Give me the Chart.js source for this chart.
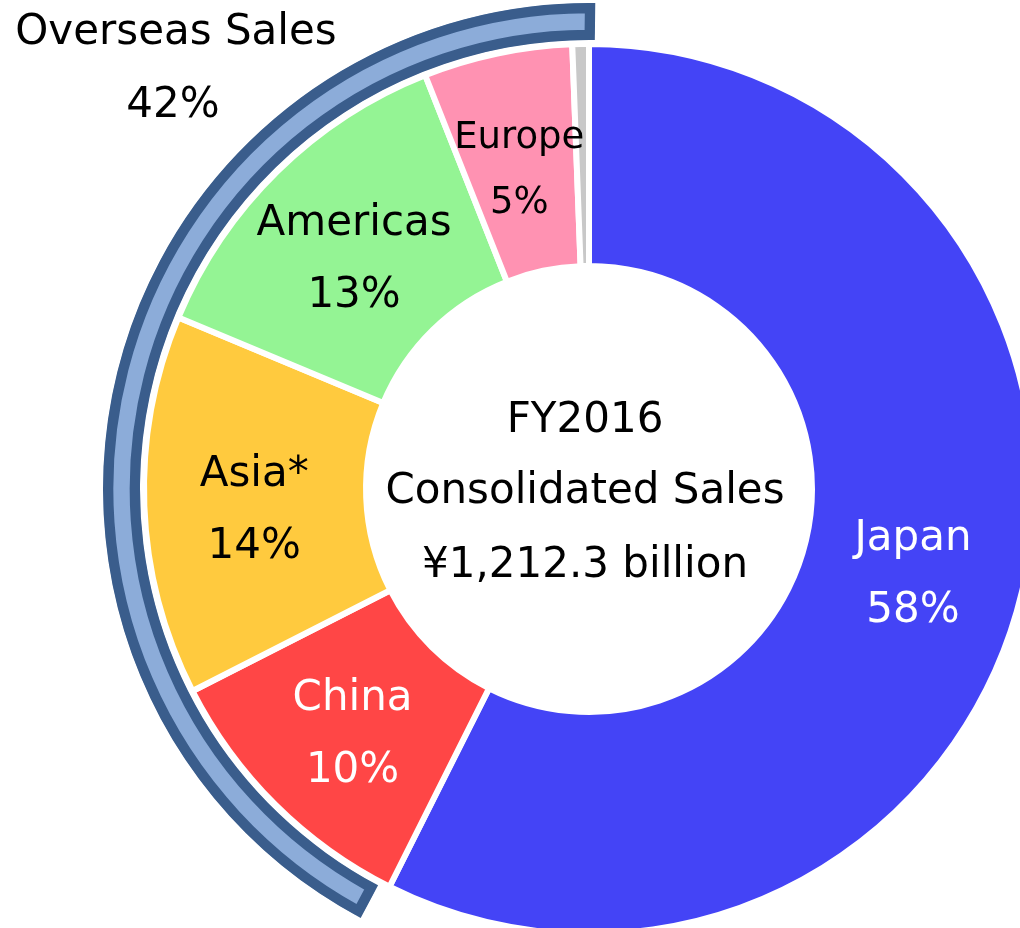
<!DOCTYPE html>
<html>
<head>
<meta charset="utf-8">
<script src="https://cdn.jsdelivr.net/npm/chart.js@4.4.1/dist/chart.umd.min.js"></script>
<style>
  html, body { margin: 0; padding: 0; background: #fff; overflow: hidden; }
  #wrap { width: 1020px; height: 928px; }
</style>
</head>
<body>
<div id="wrap"><canvas id="chart" width="1020" height="928"></canvas></div>
<script>
// Sales by region (share of consolidated sales, %), clockwise from 12 o'clock
const regions = ["Japan", "China", "Asia*", "Americas", "Europe", "Other"];
const salesShare = [57.4, 10.1, 13.8, 12.7, 5.4, 0.6];
const shareLabels = ["58%", "10%", "14%", "13%", "5%", ""];

// Outer bracket: domestic vs overseas
const overseasGroups = ["Japan", "Overseas"];
const overseasShare = [57.6, 42.4];
const overseasLabel = ["Overseas Sales", "42%"];

const centerLines = ["FY2016", "Consolidated Sales", "¥1,212.3 billion"];

const FONT = '"DejaVu Sans", Verdana, sans-serif';

const sliceColors = ["#4444f6", "#ff4646", "#ffca3e", "#94f494", "#ff92b2", "#c8c8c8"];
const labelColors = ["#ffffff", "#ffffff", "#000000", "#000000", "#000000", "#000000"];

const bracketFill = "#8cacd9";
const bracketLine = "#3a5d8c";

// Draw slice labels, centre caption and the overseas caption
const textPlugin = {
  id: "textPlugin",
  afterDatasetsDraw(chart) {
    const ctx = chart.ctx;
    const meta = chart.getDatasetMeta(2);
    ctx.save();
    ctx.textAlign = "center";
    ctx.textBaseline = "alphabetic";

    meta.data.forEach((arc, i) => {
      if (!shareLabels[i]) return;
      const p = arc.getCenterPoint();
      const small = regions[i] === "Europe";
      ctx.font = (small ? 37 : 42) + "px " + FONT;
      ctx.fillStyle = labelColors[i];
      ctx.fillText(regions[i], p.x - 1, p.y + (small ? -14 : -16));
      ctx.fillText(shareLabels[i], p.x - 1, p.y + (small ? 51 : 56));
    });

    const cx = (chart.chartArea.left + chart.chartArea.right) / 2;
    const cy = (chart.chartArea.top + chart.chartArea.bottom) / 2;
    ctx.fillStyle = "#000";
    ctx.font = "42px " + FONT;
    ctx.fillText(centerLines[0], cx - 4, cy - 57);
    ctx.fillText(centerLines[1], cx - 4, cy + 14);
    ctx.fillText(centerLines[2], cx - 4, cy + 88);

    ctx.font = "42px " + FONT;
    ctx.fillText(overseasLabel[0], 176, 44);
    ctx.fillText(overseasLabel[1], 173, 117);
    ctx.restore();
  },
};

const ctx = document.getElementById("chart").getContext("2d");
new Chart(ctx, {
  type: "doughnut",
  data: {
    labels: regions,
    datasets: [
      {
        // overseas bracket
        label: "Overseas",
        data: overseasShare,
        backgroundColor: ["rgba(0,0,0,0)", bracketFill],
        borderColor: ["rgba(0,0,0,0)", bracketLine],
        borderWidth: 10,
        borderAlign: "inner",
        borderRadius: 7,
        rotation: 0.7,
        weight: 37,
        clip: false,
      },
      {
        // white gap between bracket and ring
        label: "gap",
        data: [1],
        backgroundColor: "rgba(0,0,0,0)",
        borderWidth: 0,
        weight: 4,
        clip: false,
      },
      {
        label: "Sales share",
        data: salesShare,
        backgroundColor: sliceColors,
        borderColor: "#ffffff",
        borderWidth: 6,
        weight: 222,
        clip: false,
      },
    ],
  },
  options: {
    responsive: false,
    animation: false,
    events: [],
    radius: 486,
    cutout: "45.88%",
    layout: {
      padding: { left: 158, right: 0, top: 50, bottom: 0 },
    },
    plugins: {
      legend: { display: false },
      tooltip: { enabled: false },
    },
  },
  plugins: [textPlugin],
});
</script>
</body>
</html>
